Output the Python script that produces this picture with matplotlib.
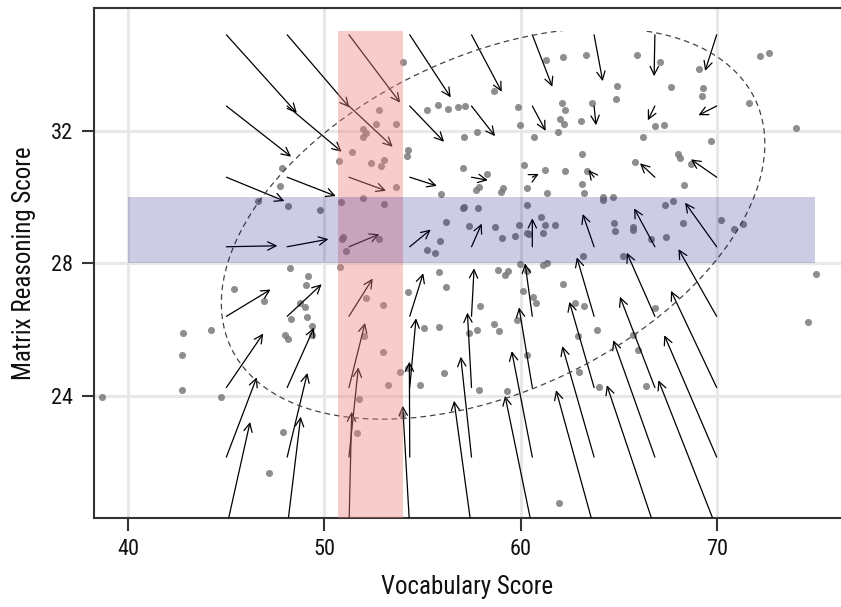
import matplotlib.pyplot as plt
from matplotlib import font_manager
from matplotlib.patches import Ellipse, FancyArrowPatch, Rectangle


# ----------------------------
# Data
# ----------------------------

vocab = [50.76, 47.82, 47.74, 46.63, 48.14, 49.78, 50.85, 50.96, 50.88, 51.09,
         54.02, 52.80, 52.63, 53.64, 51.95, 52.12, 51.98, 51.39, 52.38, 53.05,
         52.90, 53.64, 51.95, 53.02, 52.78, 55.25, 55.78, 56.29, 56.80, 57.17,
         58.65, 61.30, 62.15, 63.34, 59.89, 59.97, 62.10, 62.27, 62.02, 62.23,
         61.93, 63.10, 63.65, 57.77, 57.12, 54.28, 54.20, 57.07, 58.27, 55.96,
         57.90, 57.72, 59.12, 58.99, 60.19, 60.67, 60.35, 61.25, 61.34, 62.28,
         63.14, 63.40, 63.14, 63.25, 57.05, 57.13, 57.81, 60.33, 56.21, 57.39,
         58.68, 59.04, 59.73, 59.94, 60.31, 60.42, 61.03, 61.25, 61.77, 61.13,
         55.89, 55.22, 55.62, 63.17, 65.94, 67.11, 69.09, 64.90, 64.87, 67.66,
         69.32, 69.27, 66.86, 67.33, 71.65, 72.21, 72.69, 74.05, 66.25, 69.71,
         65.85, 68.05, 68.15, 68.69, 68.35, 64.22, 64.19, 64.70, 67.35, 67.78,
         64.78, 64.82, 65.72, 65.72, 66.64, 67.44, 68.27, 70.24, 70.89, 71.36,
         65.24, 48.25, 49.15, 49.06, 45.39, 46.94, 48.76, 49.01, 48.28, 49.13,
         49.37, 49.35, 42.77, 44.23, 47.98, 48.16, 42.75, 42.72, 38.67, 44.74,
         47.90, 47.16, 50.80, 52.12, 53.00, 52.03, 53.00, 53.85, 53.26, 51.76,
         53.94, 51.65, 54.28, 54.28, 55.86, 56.20, 55.08, 55.86, 54.89, 56.11,
         57.93, 57.77, 57.39, 58.65, 58.92, 57.88, 58.85, 59.21, 59.38, 59.97,
         60.32, 61.16, 61.34, 60.14, 60.62, 60.78, 59.84, 60.35, 59.30, 62.15,
         62.78, 63.25, 62.95, 63.89, 62.98, 64.02, 61.98, 66.86, 65.72, 65.98,
         66.40, 75.07, 74.68]

matrix = [31.08, 30.88, 30.33, 29.89, 29.73, 29.61, 29.86, 28.80, 28.73, 28.38,
          34.07, 32.62, 32.22, 32.22, 32.06, 31.94, 31.80, 31.36, 31.02, 31.12,
          30.94, 30.29, 29.97, 29.78, 28.74, 32.63, 32.77, 32.66, 32.71, 32.75,
          33.20, 34.13, 34.23, 34.28, 32.72, 32.19, 32.84, 32.62, 32.35, 32.22,
          31.96, 32.30, 32.83, 31.98, 31.80, 31.41, 31.24, 30.87, 30.69, 30.08,
          30.29, 30.21, 30.28, 30.14, 30.97, 31.80, 30.27, 30.83, 30.11, 30.80,
          31.29, 30.78, 30.39, 30.13, 29.67, 29.71, 29.67, 29.77, 29.24, 29.12,
          29.10, 28.75, 28.83, 29.16, 28.93, 28.90, 29.39, 29.15, 29.15, 28.93,
          28.66, 28.39, 28.30, 28.21, 34.29, 34.08, 33.88, 33.35, 32.97, 33.32,
          33.30, 33.06, 32.14, 32.19, 32.84, 34.26, 34.35, 32.08, 31.81, 31.68,
          31.06, 31.29, 31.18, 30.99, 30.35, 29.99, 29.90, 30.00, 29.75, 29.87,
          29.22, 28.97, 29.10, 29.00, 28.73, 28.79, 29.23, 29.30, 29.04, 29.20,
          28.22, 27.85, 27.62, 27.35, 27.23, 26.86, 26.79, 26.69, 26.32, 26.38,
          26.10, 25.83, 25.89, 25.98, 25.83, 25.72, 25.23, 24.18, 23.95, 23.95,
          22.91, 21.68, 27.89, 26.96, 26.73, 25.80, 25.31, 24.72, 24.32, 23.89,
          23.42, 22.88, 27.14, 24.83, 27.73, 27.29, 26.04, 26.08, 24.32, 24.68,
          26.72, 25.98, 25.89, 26.16, 25.96, 24.19, 27.80, 27.65, 27.77, 27.97,
          27.76, 27.94, 28.02, 27.15, 26.99, 26.81, 26.28, 25.22, 24.16, 27.39,
          26.81, 26.72, 25.81, 25.98, 24.72, 24.27, 20.77, 26.64, 25.83, 25.38,
          24.30, 27.67, 26.22]

# arrow tails (grid) and heads, one row per tail y
arrow_x = [45.0, 48.1, 51.25, 54.35, 57.5, 60.6, 63.75, 66.85, 70.0]
arrow_y = [20.0, 22.15, 24.25, 26.4, 28.5, 30.6, 32.75, 34.9]

head_x = [
    [46.21, 48.79, 51.39, 53.99, 56.61, 59.21, 61.81, 64.40, 67.03],
    [46.55, 49.13, 51.73, 54.33, 56.95, 59.55, 62.13, 64.73, 67.33],
    [46.88, 49.47, 52.07, 54.67, 57.29, 59.92, 62.49, 65.07, 67.67],
    [47.26, 49.86, 52.46, 55.04, 57.63, 60.23, 62.87, 65.42, 68.05],
    [47.60, 50.20, 52.80, 55.42, 58.02, 60.60, 63.17, 65.79, 68.39],
    [47.96, 50.58, 53.14, 55.73, 58.33, 60.93, 63.46, 66.09, 68.69],
    [48.30, 50.88, 53.48, 56.10, 58.70, 61.28, 63.85, 66.49, 69.07],
    [48.59, 51.27, 53.86, 56.44, 59.04, 61.62, 64.19, 66.81, 69.41],
]
head_y = [
    [23.21, 23.37, 23.52, 23.70, 23.85, 24.00, 24.17, 24.32, 24.47],
    [24.56, 24.69, 24.86, 25.03, 25.18, 25.35, 25.50, 25.68, 25.83],
    [25.88, 26.06, 26.20, 26.34, 26.51, 26.67, 26.84, 26.99, 27.17],
    [27.21, 27.37, 27.54, 27.70, 27.85, 28.00, 28.18, 28.32, 28.43],
    [28.53, 28.73, 28.88, 29.02, 29.20, 29.36, 29.49, 29.66, 29.83],
    [29.88, 30.03, 30.19, 30.34, 30.51, 30.70, 30.82, 31.02, 31.14],
    [31.22, 31.37, 31.52, 31.67, 31.84, 32.00, 32.17, 32.32, 32.47],
    [32.54, 32.71, 32.85, 33.01, 33.18, 33.33, 33.50, 33.65, 33.81],
]

vocab_band = [50.7, 54.0]
matrix_band = [28.0, 30.0]
band_x_range = [40.0, 75.0]
band_y_range = [20.0, 35.0]

ellipse_center = [58.6, 29.2]
ellipse_width = 28.2
ellipse_height = 10.6
ellipse_angle = 11.5

x_ticks = [40, 50, 60, 70]
y_ticks = [24, 28, 32]


# ----------------------------
# Fonts: a condensed face if one is there
# ----------------------------

installed = {f.name for f in font_manager.fontManager.ttflist}
condensed = [n for n in ['Roboto Condensed', 'Liberation Sans Narrow', 'Open Sans Condensed']
             if n in installed]
if condensed:
    plt.rcParams['font.family'] = [condensed[0], 'DejaVu Sans']
    tick_size, label_size = 16, 18
else:
    plt.rcParams['font.family'] = ['Liberation Sans', 'DejaVu Sans']
    tick_size, label_size = 15, 16


# ----------------------------
# Figure
# ----------------------------

W, H = 841, 607
fig = plt.figure(figsize=(W / 100, H / 100), dpi=100)
ax = fig.add_axes([94 / W, (H - 517.7) / H, 1 - 94 / W, (517.7 - 8.3) / H])
ax.set_xlim(38.25, 76.34)
ax.set_ylim(20.32, 35.70)

ax.set_xticks(x_ticks)
ax.set_yticks(y_ticks)
ax.grid(color='#e8e8e8', lw=2.2)
ax.set_axisbelow(True)

# points
ax.scatter(vocab, matrix, s=26, color='#7a7a7a', alpha=0.85, lw=0, zorder=2)

# arrows
for j, ty in enumerate(arrow_y):
    for i, tx in enumerate(arrow_x):
        arr = FancyArrowPatch((tx, ty), (head_x[j][i], head_y[j][i]),
                              arrowstyle='->', mutation_scale=15,
                              lw=0.9, color='black',
                              shrinkA=0, shrinkB=0, zorder=3)
        ax.add_patch(arr)

# dashed ellipse, cut at the top of the data range
ell = Ellipse(ellipse_center, ellipse_width, ellipse_height, angle=ellipse_angle,
              fill=False, ls=(0, (4.5, 3.2)), lw=0.9, color='#444444', zorder=3)
ax.add_patch(ell)
clip = Rectangle((band_x_range[0] - 10, band_y_range[0]), 60, band_y_range[1] - band_y_range[0],
                 transform=ax.transData)
ell.set_clip_path(clip)

# highlight bands, drawn over the marks
ax.add_patch(Rectangle((vocab_band[0], band_y_range[0]), vocab_band[1] - vocab_band[0],
                       band_y_range[1] - band_y_range[0],
                       color='lightcoral', alpha=0.4, lw=0, zorder=4))
ax.add_patch(Rectangle((band_x_range[0], matrix_band[0]), band_x_range[1] - band_x_range[0],
                       matrix_band[1] - matrix_band[0],
                       color='navy', alpha=0.2, lw=0, zorder=5))

# frame
for side in ['left', 'bottom', 'top']:
    ax.spines[side].set_color('#333333')
    ax.spines[side].set_linewidth(1.5)
ax.spines['right'].set_visible(False)

ax.tick_params(length=9, width=1.5, color='#333333', labelsize=tick_size, pad=6,
               labelcolor='#111111')
ax.set_xlabel('Vocabulary Score', fontsize=label_size, labelpad=11, color='#111111')
ax.set_ylabel('Matrix Reasoning Score', fontsize=label_size, labelpad=11, color='#111111')

fig.savefig('out.png', dpi=100)
